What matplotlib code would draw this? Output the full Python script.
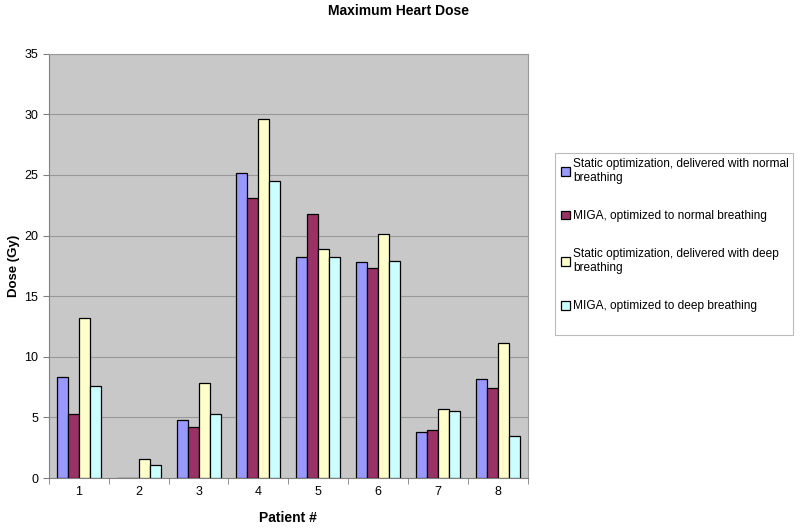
import numpy as np
import matplotlib
matplotlib.use("Agg")
import matplotlib.pyplot as plt
from matplotlib.patches import Rectangle

plt.rcParams['font.family'] = ['Liberation Sans', 'DejaVu Sans']

patients = ['1', '2', '3', '4', '5', '6', '7', '8']
static_normal = [8.3, 0, 4.8, 25.2, 18.2, 17.8, 3.8, 8.2]
miga_normal = [5.3, 0, 4.2, 23.1, 21.8, 17.3, 4.0, 7.4]
static_deep = [13.2, 1.6, 7.8, 29.6, 18.9, 20.1, 5.7, 11.1]
miga_deep = [7.6, 1.1, 5.3, 24.5, 18.2, 17.9, 5.5, 3.5]

series = [
    ("Static optimization, delivered with normal\nbreathing", static_normal, '#9999FF'),
    ("MIGA, optimized to normal breathing", miga_normal, '#993366'),
    ("Static optimization, delivered with deep\nbreathing", static_deep, '#FFFFCC'),
    ("MIGA, optimized to deep breathing", miga_deep, '#CCFFFF'),
]

fig = plt.figure(figsize=(8, 5.29), dpi=100)
ax = fig.add_axes([0.061, 0.0964, 0.599, 0.802])
ax.set_facecolor('#C8C8C8')

x = np.arange(1, len(patients) + 1)
w = 0.184
handles = []
for i, (label, vals, color) in enumerate(series):
    b = ax.bar(x + (i - 1.5) * w, vals, width=w, color=color,
               edgecolor='black', linewidth=0.9, label=label, zorder=3)
    handles.append(b)

ax.set_xlim(0.5, 8.5)
ax.set_ylim(0, 35)
ax.set_yticks(np.arange(0, 36, 5))
ax.set_xticks(x)
ax.set_xticklabels(patients)
ax.set_xticks(np.arange(0.5, 9, 1), minor=True)
ax.tick_params(axis='x', which='major', length=0, labelsize=9, pad=6)
ax.tick_params(axis='x', which='minor', length=4, color='#808080')
ax.tick_params(axis='y', length=4, color='#808080', labelsize=9)
ax.yaxis.grid(True, color='#999999', linewidth=0.8, zorder=0)
ax.set_axisbelow(True)
for s in ax.spines.values():
    s.set_color('#999999')
ax.spines['left'].set_color('#808080')
ax.spines['bottom'].set_color('#808080')

ax.set_xlabel('Patient #', fontsize=10, fontweight='bold', labelpad=9)
fig.text(14 / 800, 1 - 266 / 529, 'Dose (Gy)', rotation=90, ha='center',
         va='center', fontsize=9.5, fontweight='bold')
fig.text(0.498, 1 - 11 / 529, 'Maximum Heart Dose', ha='center', va='center',
         fontsize=10, fontweight='bold')

# legend frame drawn separately (Excel leaves extra room at the bottom)
fig.patches.append(Rectangle((555 / 800, 1 - 335 / 529), 238 / 800, 182 / 529,
                             transform=fig.transFigure, facecolor='white',
                             edgecolor='#BBBBBB', linewidth=0.8))
leg = fig.legend(handles=handles, loc='upper left',
                 bbox_to_anchor=(561 / 800, 1 - 158 / 529), frameon=False,
                 fontsize=8.6, handlelength=0.75, handleheight=0.75,
                 handletextpad=0.25, labelspacing=2.2, borderpad=0,
                 borderaxespad=0)

fig.savefig('out.png', dpi=100)
